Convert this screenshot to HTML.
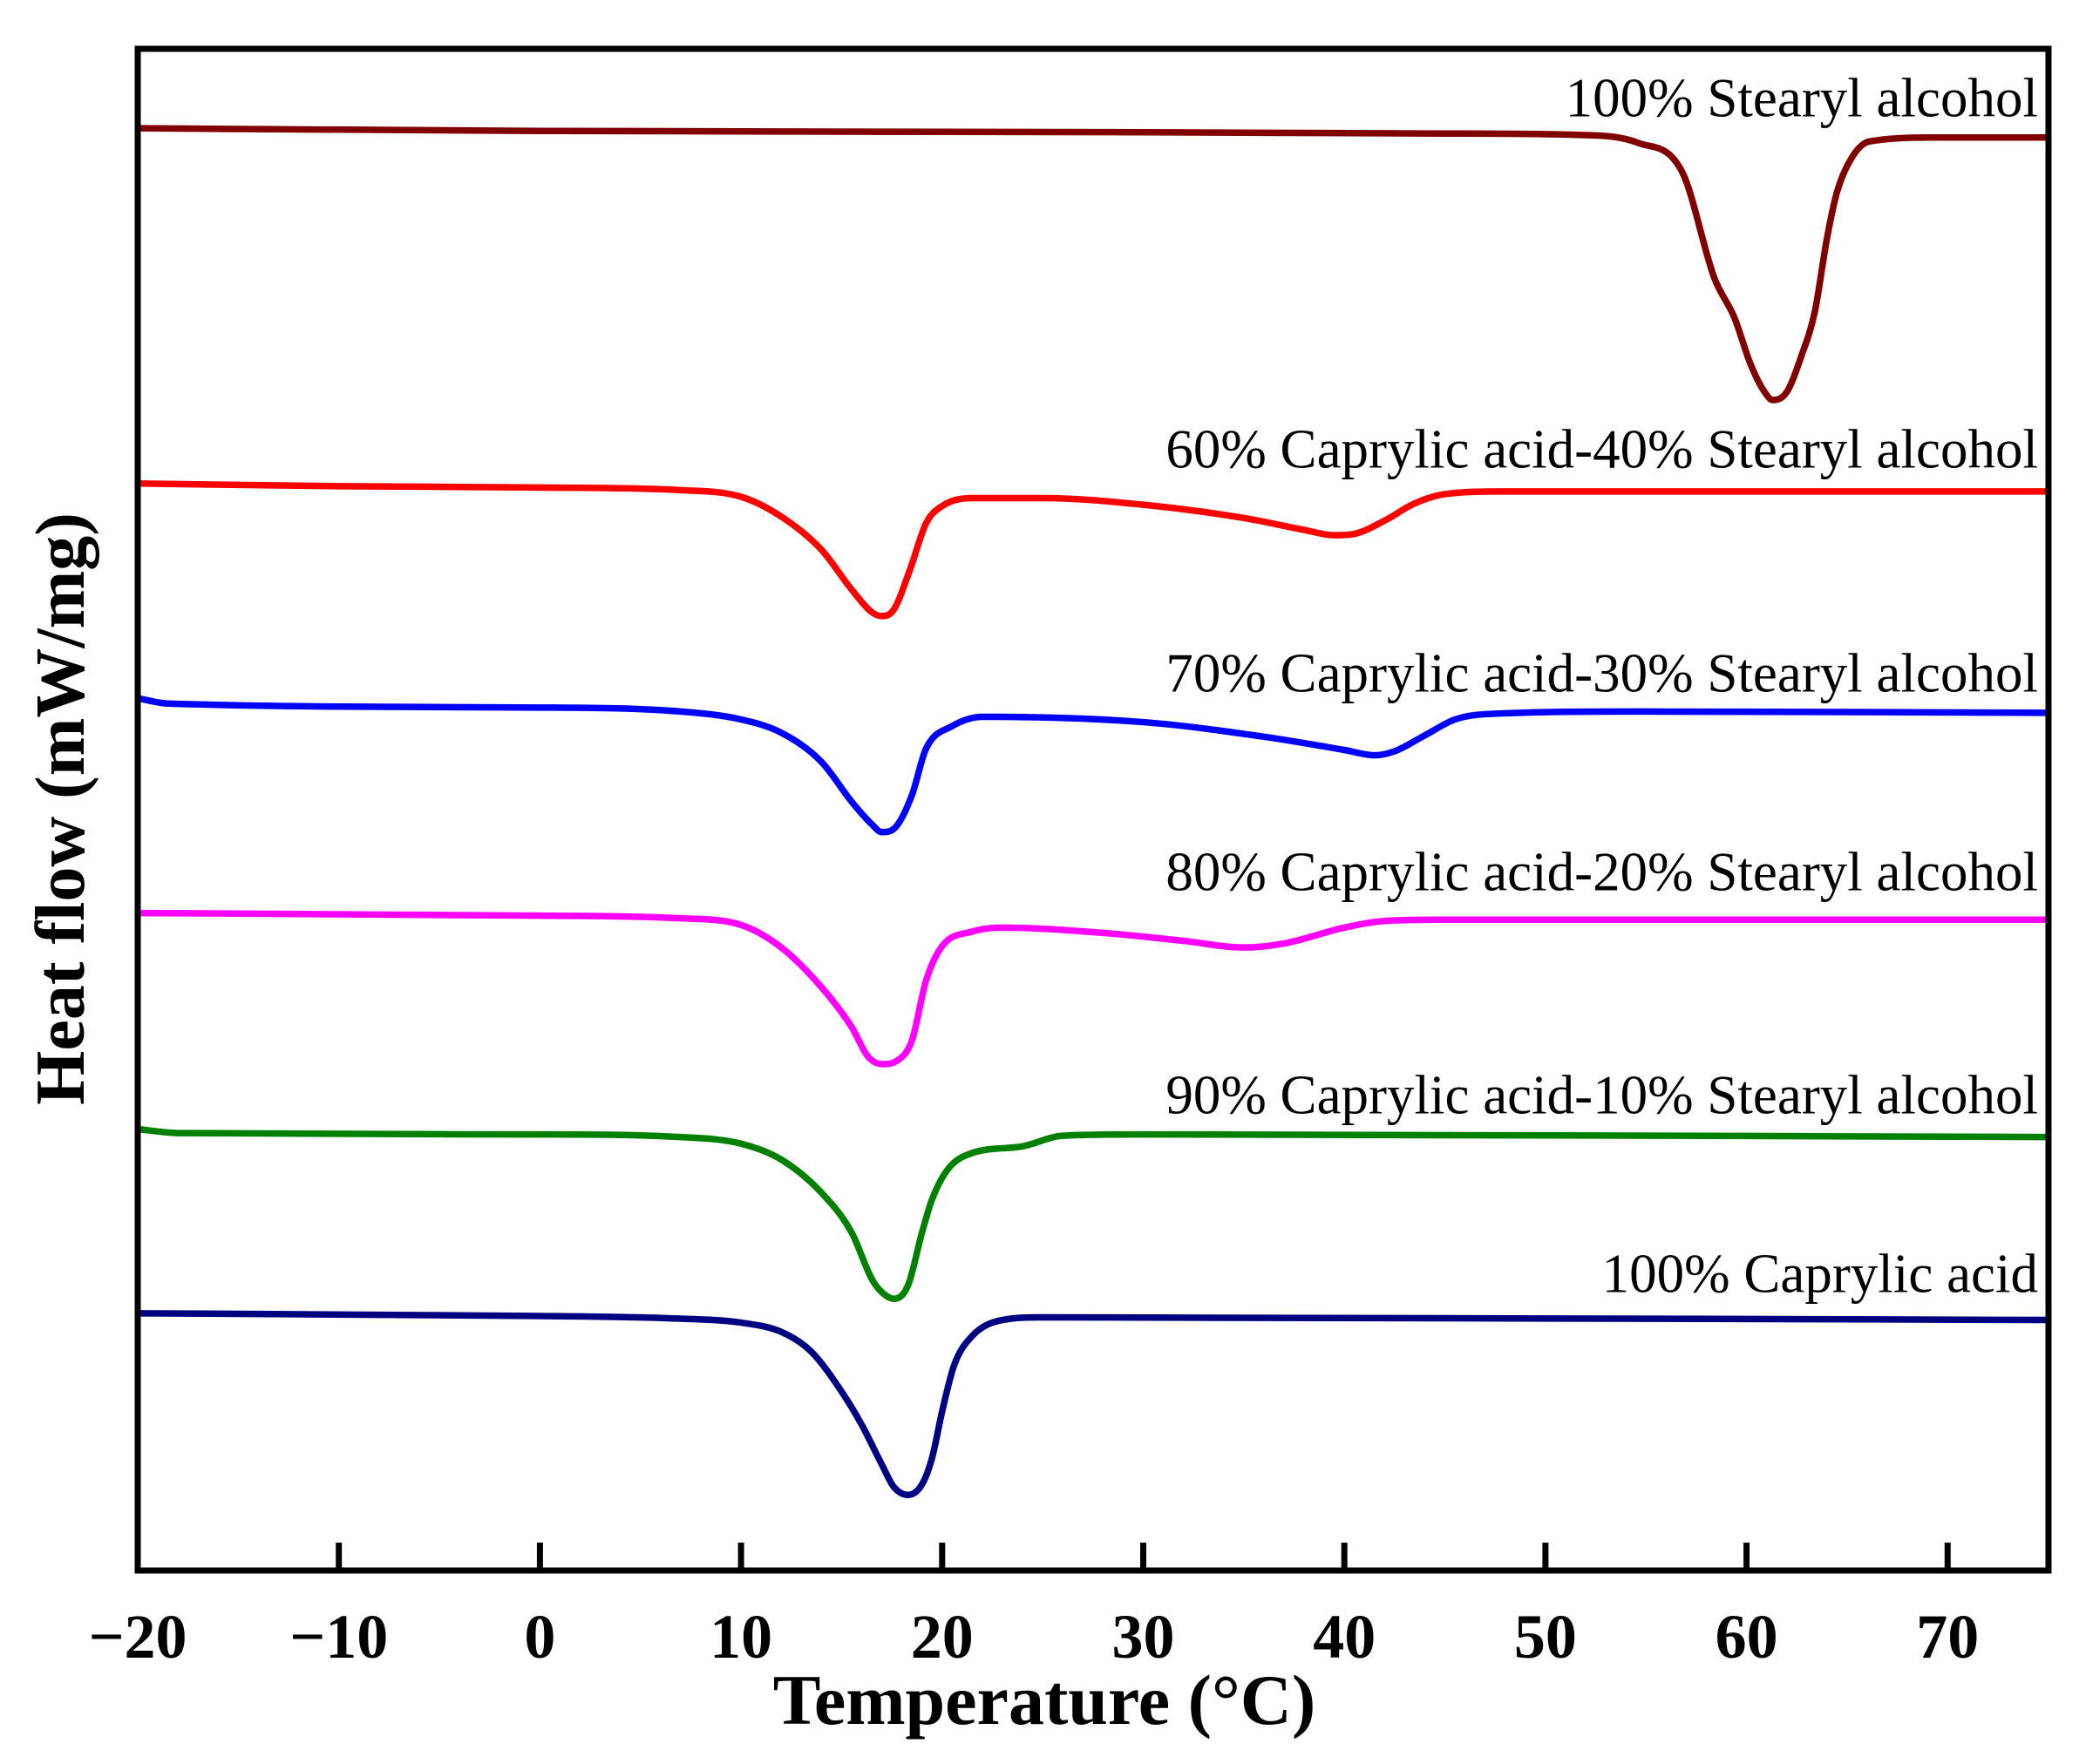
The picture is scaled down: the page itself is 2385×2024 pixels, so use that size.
<!DOCTYPE html>
<html><head><meta charset="utf-8"><style>
html,body{margin:0;padding:0;background:#fff}
svg{display:block}
text{font-family:"Liberation Serif",serif}
</style></head><body>
<svg id="chart" width="2385" height="2024" viewBox="0 0 2385 2024" xmlns="http://www.w3.org/2000/svg">
<g id="series"></g>
<rect x="158" y="56" width="2192" height="1746" fill="none" stroke="#000" stroke-width="7"/>
<g id="ticks"></g>
<text x="1198" y="1978" text-anchor="middle" font-size="82" font-weight="bold">Temperature (°C)</text>
<text x="0" y="0" transform="translate(96,928) rotate(-90)" text-anchor="middle" font-size="80" font-weight="bold">Heat flow (mW/mg)</text>
</svg>
<script>
const xTicks = [-20,-10,0,10,20,30,40,50,60,70];
const seriesNames = ["100% Stearyl alcohol","60% Caprylic acid-40% Stearyl alcohol","70% Caprylic acid-30% Stearyl alcohol","80% Caprylic acid-20% Stearyl alcohol","90% Caprylic acid-10% Stearyl alcohol","100% Caprylic acid"];
const seriesColors = ["#800000","#ff0000","#0000ff","#ff00ff","#008000","#000080"];
const labelValues = [1097,832,663,513,345,210];
// temperatures (°C) and heat flow (arbitrary units, higher = up)
const tSA = [-20,0,30,45,51.6,54.6,56.8,58.4,59.4,60.2,60.9,61.3,62.0,62.7,63.4,64.0,64.5,65.2,66.1,69.4,75];
const hSA = [1088,1086,1085,1084,1083,1077,1055,975,945,910,889,883,889,915,950,1005,1040,1065,1078,1081,1081];
const t60 = [-20,-10,0,7,10,12,14,15.5,16.5,17,17.6,18.4,19.2,20,21.5,25,30,35,38,39.5,40.5,42,43.5,45,48,75];
const h60 = [820,818,817,815,810,795,770,740,723,720,725,755,790,803,809,809,804,794,785,781,782,792,805,812,814,814];
const t70 = [-20,-18.5,0,7,10,12,14,15.5,16.5,17,17.7,18.5,19.2,20.5,22,30,36,40,41.5,42.5,44,45.5,47,55,75];
const h70 = [658,654,651,648,642,632,610,580,563,557,561,585,620,637,644,640,629,619,615,618,630,642,646,648,647];
const t80 = [-20,0,7,10,12,14,15.5,16.3,17,17.8,18.5,19.2,20,21.5,23,28,32,35,37,40,42,45,75];
const h80 = [496,494,492,487,470,440,410,388,382,385,400,445,471,482,485,481,475,470,473,485,490,491,491];
const t90 = [-20,-18,0,7,10,12,14,15.5,16.5,17,17.6,18.3,19,19.5,20.3,21.5,24,26,30,75];
const h90 = [333,330,329,327,322,310,285,255,220,210,205,215,255,280,303,315,320,328,329,327];
const tCA = [-20,0,7,10,12,13.5,15,16,17,17.6,18.3,19,19.5,20,20.6,21.5,23,25,75];
const hCA = [194,192,190,187,180,165,135,110,80,63,57,65,85,120,155,177,189,191,189];
const seriesT = [tSA,t60,t70,t80,t90,tCA];
const seriesH = [hSA,h60,h70,h80,h90,hCA];

const X0=158, XPER=23.07;
function xScale(t){return X0+(t+20)*XPER;}
function yScale(v){return 1802-v*1.521;}
const NS="http://www.w3.org/2000/svg";
const sg=document.getElementById('series');
function monotonePath(xs,ys){
  const n=xs.length, d=[], m=new Array(n);
  for(let i=0;i<n-1;i++) d.push((ys[i+1]-ys[i])/(xs[i+1]-xs[i]));
  m[0]=d[0]; m[n-1]=d[n-2];
  for(let i=1;i<n-1;i++) m[i]=(d[i-1]*d[i]<=0)?0:(d[i-1]+d[i])/2;
  for(let i=0;i<n-1;i++){
    if(d[i]===0){m[i]=0;m[i+1]=0;continue;}
    const a=m[i]/d[i], b=m[i+1]/d[i], s=a*a+b*b;
    if(s>9){const t=3/Math.sqrt(s);m[i]=t*a*d[i];m[i+1]=t*b*d[i];}
  }
  let p="M"+xs[0]+","+ys[0];
  for(let i=0;i<n-1;i++){
    const h=(xs[i+1]-xs[i])/3;
    p+=" C"+(xs[i]+h)+","+(ys[i]+m[i]*h)+" "+(xs[i+1]-h)+","+(ys[i+1]-m[i+1]*h)+" "+xs[i+1]+","+ys[i+1];
  }
  return p;
}
for(let s=0;s<seriesT.length;s++){
  const xs=seriesT[s].map(xScale), ys=seriesH[s].map(yScale);
  const path=document.createElementNS(NS,'path');
  path.setAttribute('d',monotonePath(xs,ys));
  path.setAttribute('fill','none');
  path.setAttribute('stroke',seriesColors[s]);
  path.setAttribute('stroke-width','7.5');
  path.setAttribute('stroke-linejoin','round');
  
  
  sg.appendChild(path);
  const lbl=document.createElementNS(NS,'text');
  lbl.setAttribute('x','2338');
  lbl.setAttribute('y',yScale(labelValues[s]));
  lbl.setAttribute('text-anchor','end');
  lbl.setAttribute('font-size','63');
  lbl.textContent=seriesNames[s];
  
  
  sg.appendChild(lbl);
}
const tg=document.getElementById('ticks');
xTicks.forEach(t=>{
  const x=xScale(t);
  const ln=document.createElementNS(NS,'line');
  ln.setAttribute('x1',x);ln.setAttribute('x2',x);
  ln.setAttribute('y1',1802);ln.setAttribute('y2',1770);
  ln.setAttribute('stroke','#000');ln.setAttribute('stroke-width','7');
  
  
  tg.appendChild(ln);
  const tx=document.createElementNS(NS,'text');
  tx.setAttribute('x',x);tx.setAttribute('y',1902);
  tx.setAttribute('text-anchor','middle');
  tx.setAttribute('font-size','72');tx.setAttribute('font-weight','bold');
  tx.textContent=t<0?'\u2212'+(-t):String(t);
  
  
  tg.appendChild(tx);
});
</script>
</body></html>
